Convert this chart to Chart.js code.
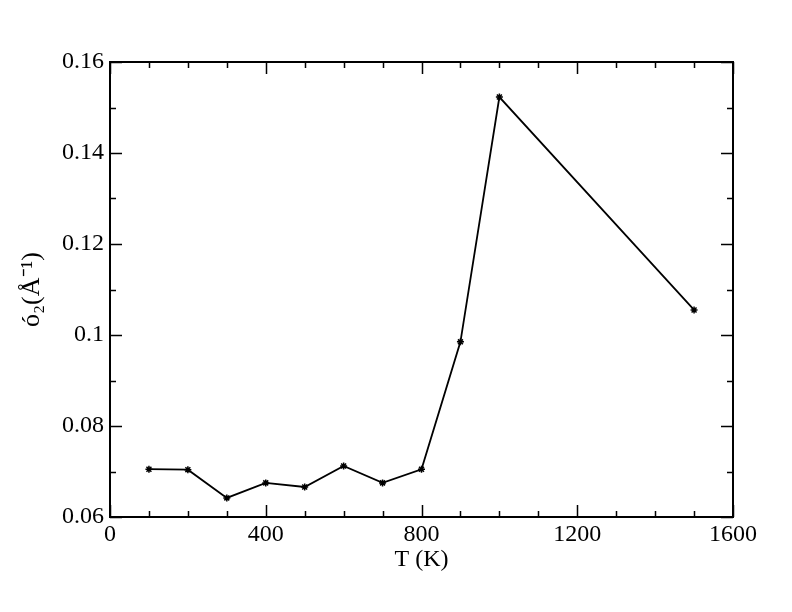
<!DOCTYPE html>
<html>
<head>
<meta charset="utf-8">
<script src="https://cdn.jsdelivr.net/npm/chart.js@4"></script>
<style>
  html, body { margin: 0; padding: 0; background: #fff; }
  #wrap { width: 792px; height: 612px; }
</style>
</head>
<body>
<div id="wrap"><canvas id="Chart" width="792" height="612"></canvas></div>
<script>
// temperature (K) and width values
var temps = [100, 200, 300, 400, 500, 600, 700, 800, 900, 1000, 1500];
var sigma = [0.0705, 0.0704, 0.0642, 0.0675, 0.0666, 0.0712, 0.0675, 0.0705, 0.0985, 0.1523, 0.1055];

var xTickLabels = ['0', '400', '800', '1200', '1600'];
var yTickLabels = ['0.06', '0.08', '0.1', '0.12', '0.14', '0.16'];

var points = [];
for (var i = 0; i < temps.length; i++) {
  points.push({ x: temps[i], y: sigma[i] });
}

var serif = "'Liberation Serif', 'Times New Roman', Times, serif";

// inward ticks on all four sides plus the frame
var frameTicks = {
  id: 'frameTicks',
  afterDraw: function(chart) {
    var c = chart.ctx, a = chart.chartArea;
    var xs = chart.scales.x, ys = chart.scales.y;
    c.save();
    c.strokeStyle = '#000';
    c.lineWidth = 2;
    c.strokeRect(a.left, a.top, a.right - a.left, a.bottom - a.top);
    c.lineWidth = 1.5;
    c.beginPath();
    for (var v = 0; v <= 1600; v += 100) {
      var px = Math.round(xs.getPixelForValue(v)) + 0.5;
      var len = (v % 400 === 0) ? 12 : 6;
      c.moveTo(px, a.bottom); c.lineTo(px, a.bottom - len);
      c.moveTo(px, a.top); c.lineTo(px, a.top + len);
    }
    for (var k = 0; k <= 10; k++) {
      var py = Math.round(ys.getPixelForValue(0.06 + k * 0.01)) + 0.5;
      var l2 = (k % 2 === 0) ? 12 : 6;
      c.moveTo(a.left, py); c.lineTo(a.left + l2, py);
      c.moveTo(a.right, py); c.lineTo(a.right - l2, py);
    }
    c.stroke();
    c.restore();
  }
};

var ctx = document.getElementById('Chart');
var myChart = new Chart(ctx, {
  type: 'line',
  data: {
    datasets: [{
      data: points,
      borderColor: '#000',
      backgroundColor: '#000',
      borderWidth: 1.8,
      pointStyle: 'star',
      pointRadius: 3.5,
      pointBorderWidth: 1.5,
      fill: false,
      tension: 0
    }]
  },
  options: {
    responsive: false,
    animation: false,
    layout: { padding: { top: 62, right: 59, left: 0, bottom: 38 } },
    plugins: { legend: { display: false }, tooltip: { enabled: false } },
    scales: {
      x: {
        type: 'linear',
        min: 0, max: 1600,
        afterFit: function(s) { s.height = 57; },
        grid: { display: false, drawTicks: false },
        border: { display: false },
        ticks: {
          stepSize: 400,
          padding: 3,
          color: '#000',
          font: { family: serif, size: 24 },
          maxRotation: 0,
          callback: function(v, i) { return xTickLabels[i]; }
        },
        title: {
          display: true,
          text: 'T (K)',
          color: '#000',
          padding: 0,
          font: { family: serif, size: 24 }
        }
      },
      y: {
        type: 'linear',
        min: 0.06, max: 0.16,
        afterFit: function(s) { s.width = 110; },
        grid: { display: false, drawTicks: false },
        border: { display: false },
        ticks: {
          stepSize: 0.02,
          padding: 6,
          color: '#000',
          font: { family: serif, size: 24 },
          callback: function(v, i) { return yTickLabels[i]; }
        },
        title: {
          display: true,
          text: 'ó\u2082(Å\u207B\u00B9)',
          color: '#000',
          padding: { top: 17, bottom: 0 },
          font: { family: serif, size: 26 }
        }
      }
    }
  },
  plugins: [frameTicks]
});
</script>
</body>
</html>
